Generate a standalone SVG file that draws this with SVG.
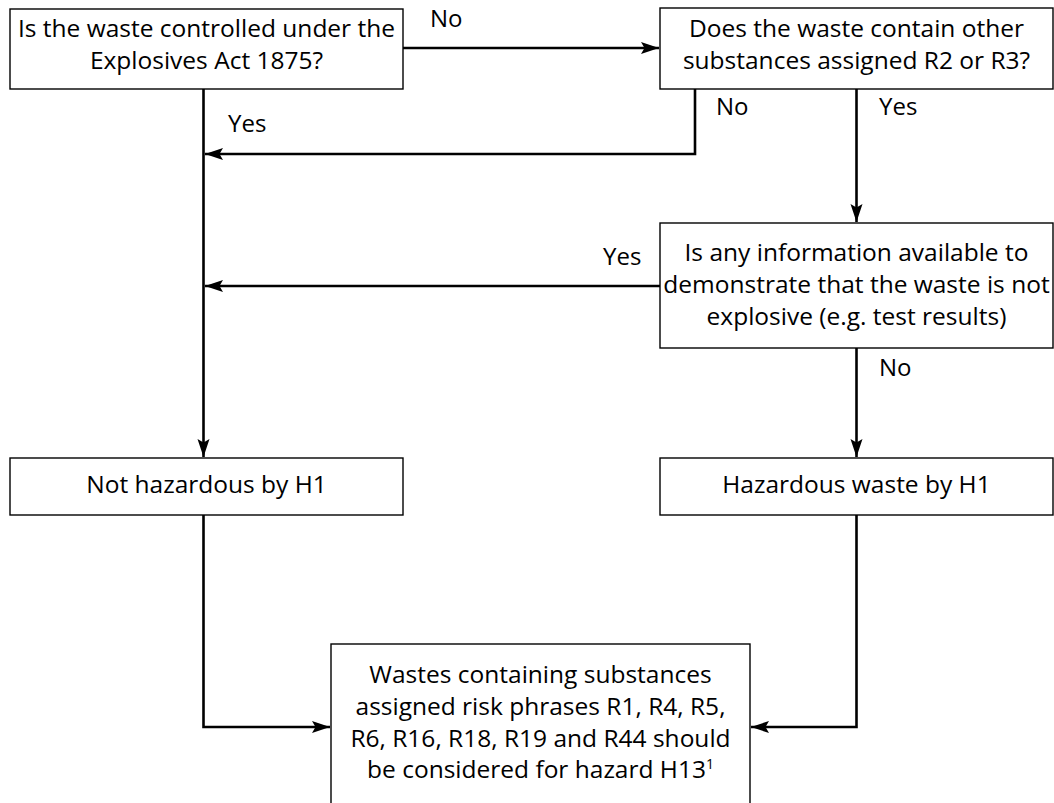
<svg xmlns="http://www.w3.org/2000/svg" width="1054" height="803" viewBox="0 0 1054 803">
<style>
.box{fill:#fff;stroke:#000;stroke-width:1.4}
.t{font-family:"Open Sans","Liberation Sans",sans-serif;font-size:24.5px;fill:#000;text-anchor:middle}
.lbl{font-family:"Open Sans","Liberation Sans",sans-serif;font-size:24px;fill:#000}
.c{fill:none;stroke:#000;stroke-width:2.6}
</style>
<defs>
<marker id="ah" markerUnits="userSpaceOnUse" markerWidth="19" markerHeight="13" refX="18" refY="6.5" orient="auto">
<path d="M0,0.5 L18,6.5 L0,12.5 L3.5,6.5 z" fill="#000"/>
</marker>
</defs>
<rect width="1054" height="803" fill="#fff"/>
<g id="connectors">
<path class="c" d="M403,48 H659" marker-end="url(#ah)"/>
<path class="c" d="M203.5,89 V457" marker-end="url(#ah)"/>
<path class="c" d="M695,89 V154 H205" marker-end="url(#ah)"/>
<path class="c" d="M856.5,89 V222" marker-end="url(#ah)"/>
<path class="c" d="M660,286 H205" marker-end="url(#ah)"/>
<path class="c" d="M856.5,348 V457" marker-end="url(#ah)"/>
<path class="c" d="M203.5,515 V727 H330" marker-end="url(#ah)"/>
<path class="c" d="M856.5,515 V727 H751" marker-end="url(#ah)"/>
<text class="lbl" x="430" y="27">No</text>
<text class="lbl" x="228" y="132">Yes</text>
<text class="lbl" x="716" y="115">No</text>
<text class="lbl" x="879" y="115">Yes</text>
<text class="lbl" x="603" y="265">Yes</text>
<text class="lbl" x="879" y="376">No</text>
</g>
<g id="n1">
<rect class="box" x="10" y="9" width="393" height="80"/>
<text class="t" x="206.5" y="37">Is the waste controlled under the</text>
<text class="t" x="206.5" y="69">Explosives Act 1875?</text>
</g>
<g id="n2">
<rect class="box" x="660" y="8" width="393" height="81"/>
<text class="t" x="856.5" y="37">Does the waste contain other</text>
<text class="t" x="856.5" y="69">substances assigned R2 or R3?</text>
</g>
<g id="n3">
<rect class="box" x="660" y="223" width="393" height="125"/>
<text class="t" x="856.5" y="261">Is any information available to</text>
<text class="t" x="856.5" y="293">demonstrate that the waste is not</text>
<text class="t" x="856.5" y="325">explosive (e.g. test results)</text>
</g>
<g id="n4">
<rect class="box" x="10" y="458" width="393" height="57"/>
<text class="t" x="206.5" y="493">Not hazardous by H1</text>
</g>
<g id="n5">
<rect class="box" x="660" y="458" width="393" height="57"/>
<text class="t" x="856.5" y="493">Hazardous waste by H1</text>
</g>
<g id="n6">
<rect class="box" x="331" y="644" width="419" height="170"/>
<text class="t" x="540.5" y="683">Wastes containing substances</text>
<text class="t" x="540.5" y="715">assigned risk phrases R1, R4, R5,</text>
<text class="t" x="540.5" y="747">R6, R16, R18, R19 and R44 should</text>
<text class="t" x="540.5" y="778">be considered for hazard H13<tspan font-size="14" dy="-9">1</tspan></text>
</g>
</svg>
